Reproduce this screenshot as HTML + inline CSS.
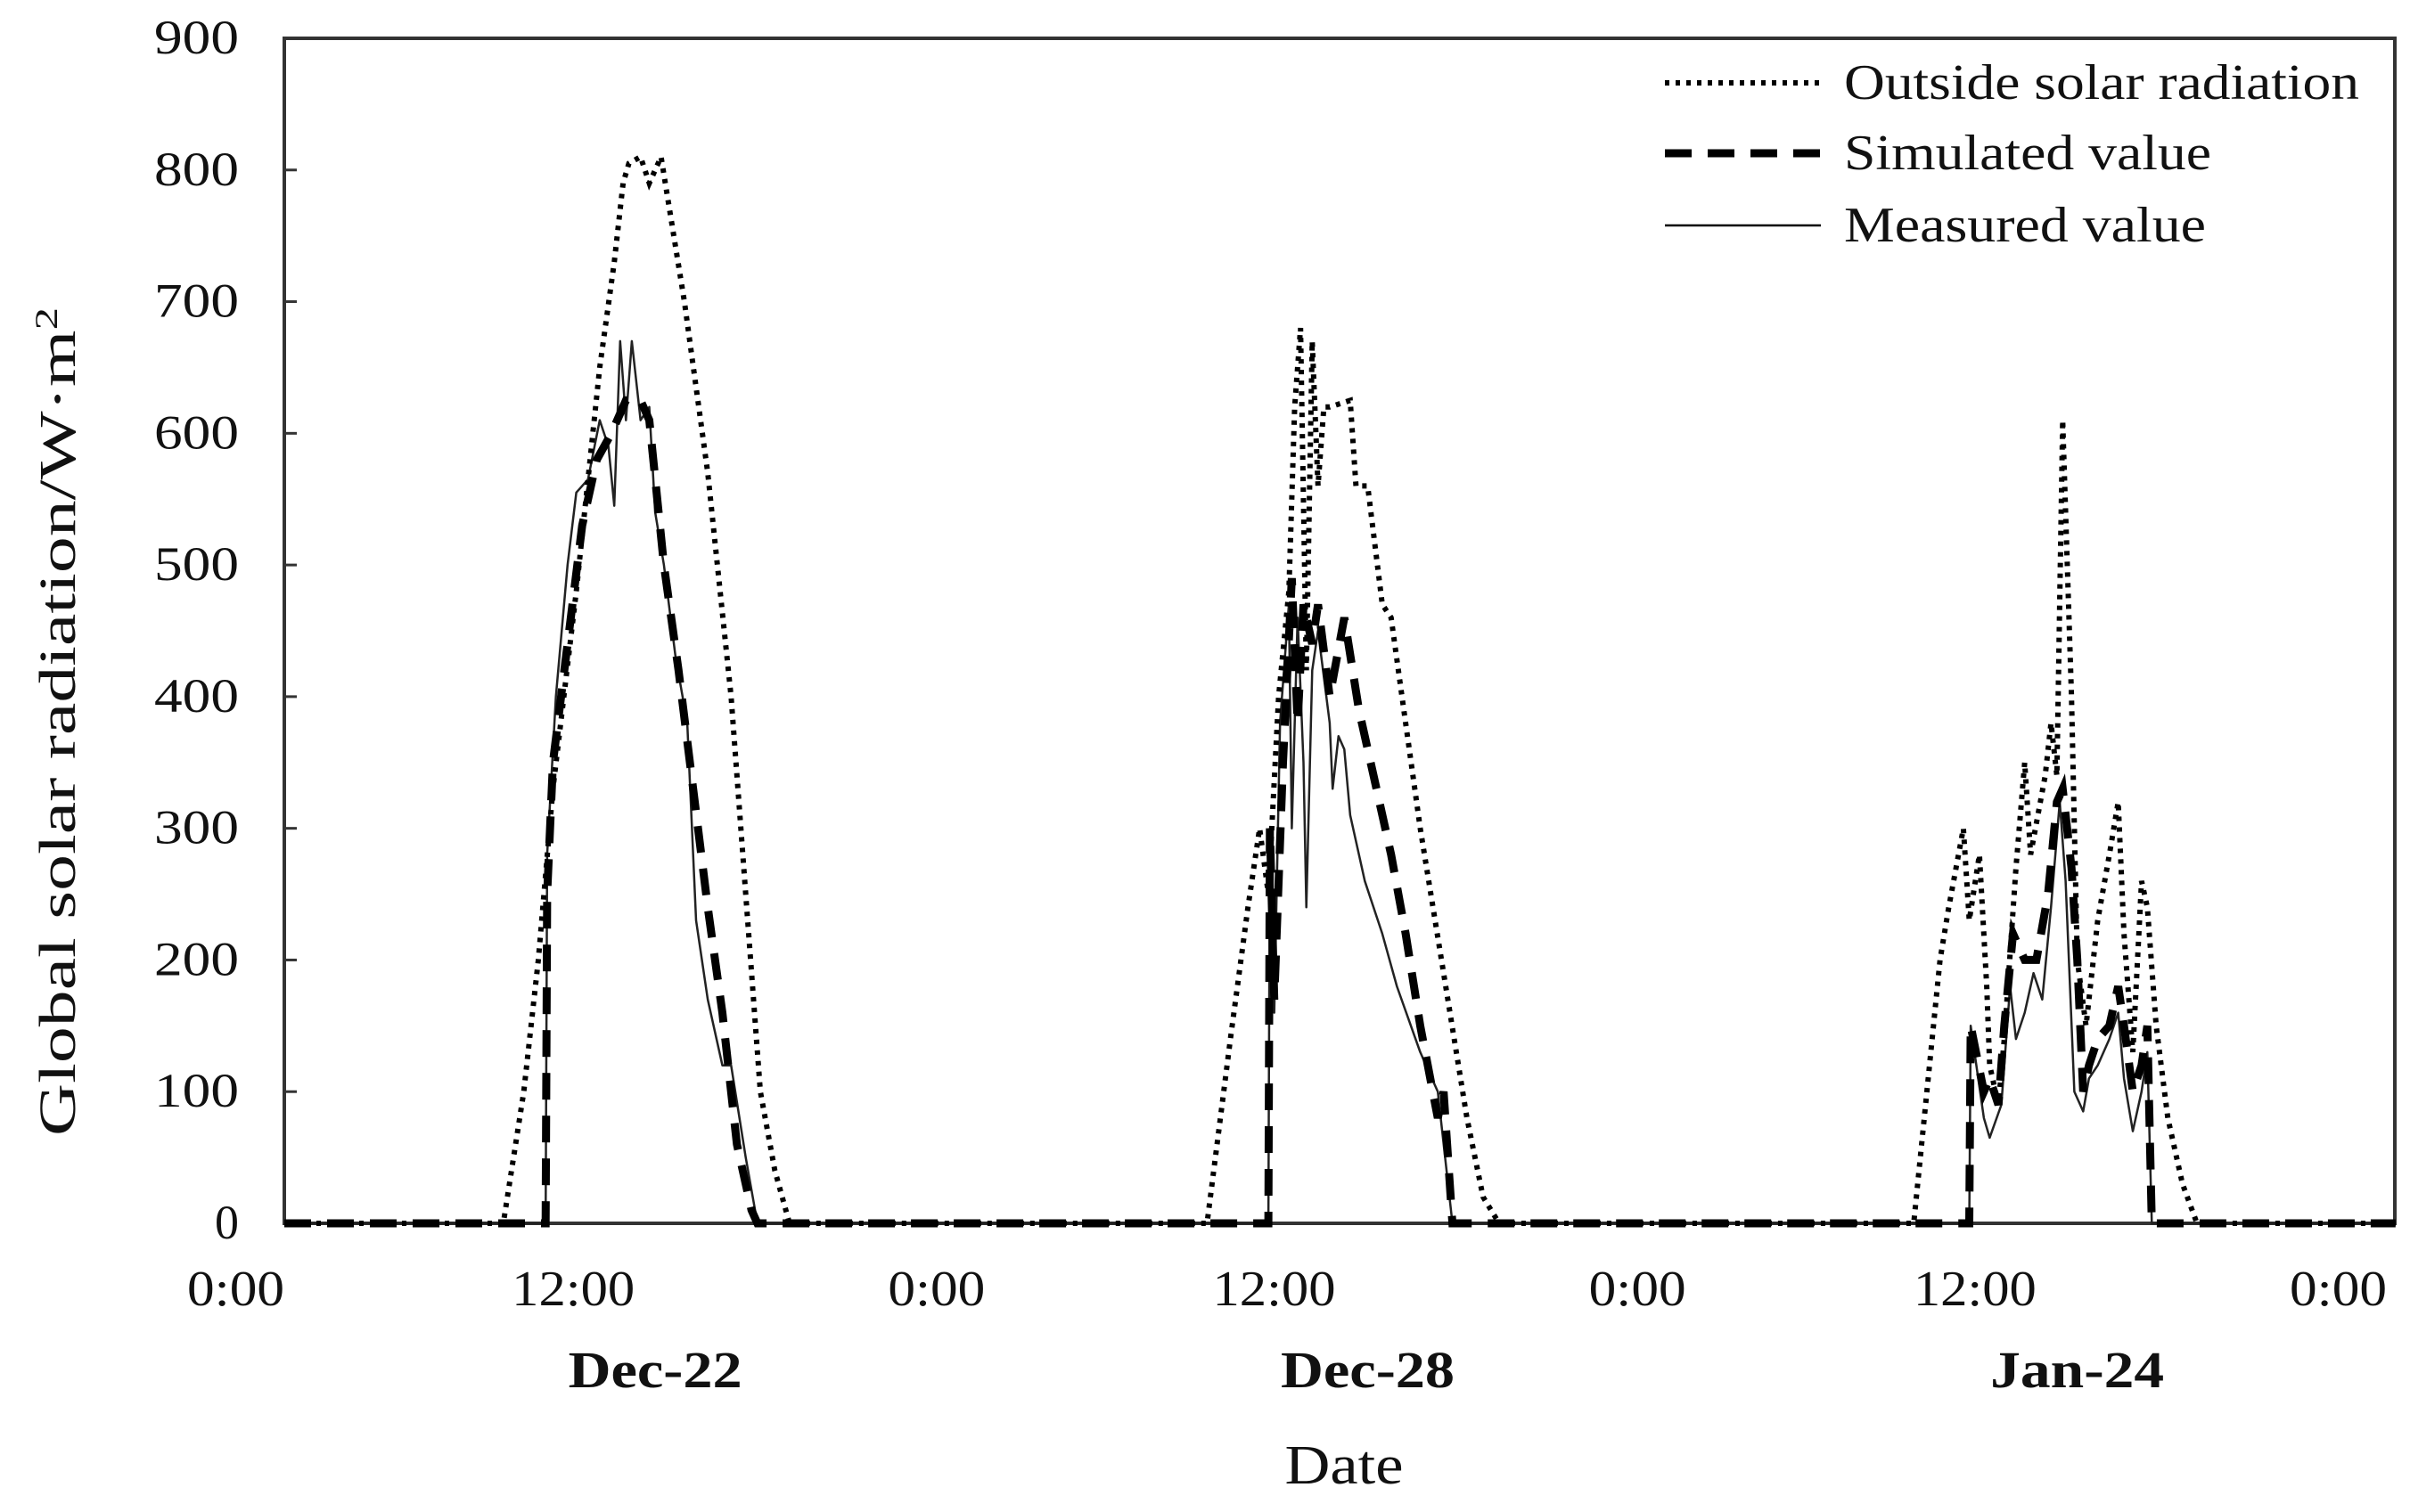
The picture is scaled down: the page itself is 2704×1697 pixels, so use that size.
<!DOCTYPE html>
<html><head><meta charset="utf-8"><style>
html,body{margin:0;padding:0;background:#fff;}
svg{display:block;}
text{font-family:"Liberation Serif",serif;fill:#111;}
</style></head><body>
<svg id="chart" width="2704" height="1697" viewBox="0 0 2704 1697" xmlns="http://www.w3.org/2000/svg">
<g id="axes"></g>
<g id="series"></g>
<g id="legend"></g>
</svg>
<script>
const yTicks = [0,100,200,300,400,500,600,700,800,900];
const xTickHours = [0,12,24,36,48,60,72];
const xTickLabels = ["0:00","12:00","0:00","12:00","0:00","12:00","0:00"];
const dateHours = [12.7,37.1,61.4];
const dateLabels = ["Dec-22","Dec-28","Jan-24"];

const outsideHours = [0,7.5,8.2,8.7,9.2,10,10.8,11.3,11.6,11.8,12.2,12.5,12.9,13.7,14.5,15.3,15.8,16.3,16.8,17.3,
 31.6,32.4,33.0,33.4,33.7,34.05,34.4,34.6,34.8,35.0,35.2,35.4,35.6,35.8,36.5,36.7,37.1,37.6,37.9,38.4,38.9,39.7,40.5,41.05,41.6,
 55.8,56.7,57.0,57.5,57.7,58.05,58.3,58.4,58.7,58.9,59.3,59.6,59.8,60.3,60.5,60.7,60.9,61.2,61.4,61.7,62.1,62.5,62.8,63.0,63.3,63.6,63.8,64.1,64.5,65.0,65.5,72.3];
const outsideValues = [0,0,100,200,330,480,650,730,790,805,810,790,810,700,570,400,250,100,40,0,
 0,140,240,300,250,400,480,620,680,420,670,560,620,620,625,560,560,470,460,380,300,190,80,20,0,
 0,200,240,300,230,280,180,120,90,140,270,350,280,340,380,340,610,400,200,150,230,280,320,220,130,260,240,150,80,30,0,0];

const simHours = [0,8.95,9.0,9.2,9.7,10.2,10.7,11.2,11.7,12.2,12.5,13.0,13.5,14.0,14.5,15.0,15.5,16.0,16.2,
 33.7,33.75,33.9,34.2,34.5,34.7,34.9,35.2,35.4,35.8,36.3,36.8,37.4,37.9,38.4,38.9,39.5,39.7,40.0,
 57.7,57.75,58.2,58.4,58.7,58.9,59.2,59.6,60.0,60.4,60.7,60.9,61.2,61.4,61.6,61.8,62.1,62.5,62.8,63.0,63.3,63.6,63.8,63.95,72.3];
const simValues = [0,0,250,350,440,530,580,600,625,625,610,500,420,330,240,160,60,10,0,
 0,300,170,350,490,380,470,440,470,400,460,390,330,280,220,150,80,100,0,
 0,150,100,110,90,150,220,200,200,250,320,330,270,200,100,120,140,150,180,150,100,120,150,0,0];

const measHours = [0,8.95,9.0,9.3,9.7,10.0,10.4,10.8,11.1,11.3,11.5,11.7,11.9,12.2,12.5,12.7,13.0,13.4,13.8,14.1,14.5,15.0,15.3,15.8,16.2,
 33.7,33.75,33.9,34.1,34.4,34.5,34.7,34.9,35.0,35.2,35.4,35.8,35.9,36.1,36.3,36.5,37.0,37.6,38.1,38.9,39.5,40.0,
 57.7,57.75,58.2,58.4,58.8,59.1,59.3,59.6,59.9,60.2,60.5,60.8,61.0,61.3,61.6,61.8,62.1,62.5,62.8,63.0,63.3,63.6,63.8,63.95,72.3];
const measValues = [0,0,280,400,500,555,565,610,590,545,670,610,670,610,620,540,500,430,380,230,170,120,120,50,0,
 0,300,160,380,470,300,460,350,240,420,450,380,330,370,360,310,260,220,180,130,100,0,
 0,150,80,65,90,180,140,160,190,170,240,320,260,100,85,110,120,140,160,110,70,100,130,0,0];

const L=319,R=2687,T=43,B=1373;
function xs(h){return L+(h/72)*(2678-L);}
function ys(v){return B-(v/900)*(B-T);}
const NS="http://www.w3.org/2000/svg";
function mk(tag,attrs,parent){const e=document.createElementNS(NS,tag);for(const k in attrs)e.setAttribute(k,attrs[k]);parent.appendChild(e);return e;}
const axes=document.getElementById('axes'),series=document.getElementById('series'),legend=document.getElementById('legend');

let frame=mk('rect',{x:L,y:T,width:R-L,height:B-T,fill:'none',stroke:'#333','stroke-width':4},axes);


yTicks.forEach(v=>{
  let t=mk('line',{x1:L,x2:L+14,y1:ys(v),y2:ys(v),stroke:'#333','stroke-width':3},axes);
  
  
  let lb=mk('text',{x:268,y:ys(v)+17,'text-anchor':'end','font-size':54},axes);
  lb.textContent=v;
  if(v>=100){lb.setAttribute('textLength',95);lb.setAttribute('lengthAdjust','spacingAndGlyphs');}
  
  
});
xTickHours.forEach((h,i)=>{
  let lb=mk('text',{x:xs(h),y:1465,'text-anchor':'end','font-size':56,textLength:xTickLabels[i].length>4?138:109,lengthAdjust:'spacingAndGlyphs'},axes);
  lb.textContent=xTickLabels[i];
  
  
});
dateHours.forEach((h,i)=>{
  let lb=mk('text',{x:xs(h),y:1557,'text-anchor':'middle','font-size':58,'font-weight':'bold',textLength:195,lengthAdjust:'spacingAndGlyphs'},axes);
  lb.textContent=dateLabels[i];
  
  
});
let xt=mk('text',{x:1508,y:1665,'text-anchor':'middle','font-size':62,textLength:133,lengthAdjust:'spacingAndGlyphs'},axes);
xt.textContent='Date';


let yt=mk('text',{x:0,y:0,'text-anchor':'middle','font-size':58,transform:'translate(84,810) rotate(-90)',textLength:930,lengthAdjust:'spacingAndGlyphs'},axes);
yt.innerHTML='Global solar radiation/W·m<tspan dy="-20" font-size="36">2</tspan>';



function pts(hs,vs){return hs.map((h,i)=>xs(h).toFixed(1)+','+ys(vs[i]).toFixed(1)).join(' ');}
let pm=mk('polyline',{points:pts(measHours,measValues),fill:'none',stroke:'#222','stroke-width':2.5,'stroke-linejoin':'round'},series);


let ps=mk('polyline',{points:pts(simHours,simValues),fill:'none',stroke:'#000','stroke-width':9,'stroke-dasharray':'30 18'},series);


let po=mk('polyline',{points:pts(outsideHours,outsideValues),fill:'none',stroke:'#000','stroke-width':6,'stroke-dasharray':'5 7'},series);



const legendLabels=["Outside solar radiation","Simulated value","Measured value"];
const legendY=[93,172,253];
const legendW=[578,412,406];
legendLabels.forEach((s,i)=>{
  let ln=mk('line',{x1:1868,x2:2043,y1:legendY[i],y2:legendY[i],stroke:'#000'},legend);
  if(i===0){ln.setAttribute('stroke-width',6);ln.setAttribute('stroke-dasharray','5 7');}
  if(i===1){ln.setAttribute('stroke-width',9);ln.setAttribute('stroke-dasharray','30 18');}
  if(i===2){ln.setAttribute('stroke-width',2.5);}
  
  
  let t=mk('text',{x:2069,y:legendY[i]+18,'font-size':56,textLength:legendW[i],lengthAdjust:'spacingAndGlyphs'},legend);
  t.textContent=s;
  
  
});
</script>
</body></html>
